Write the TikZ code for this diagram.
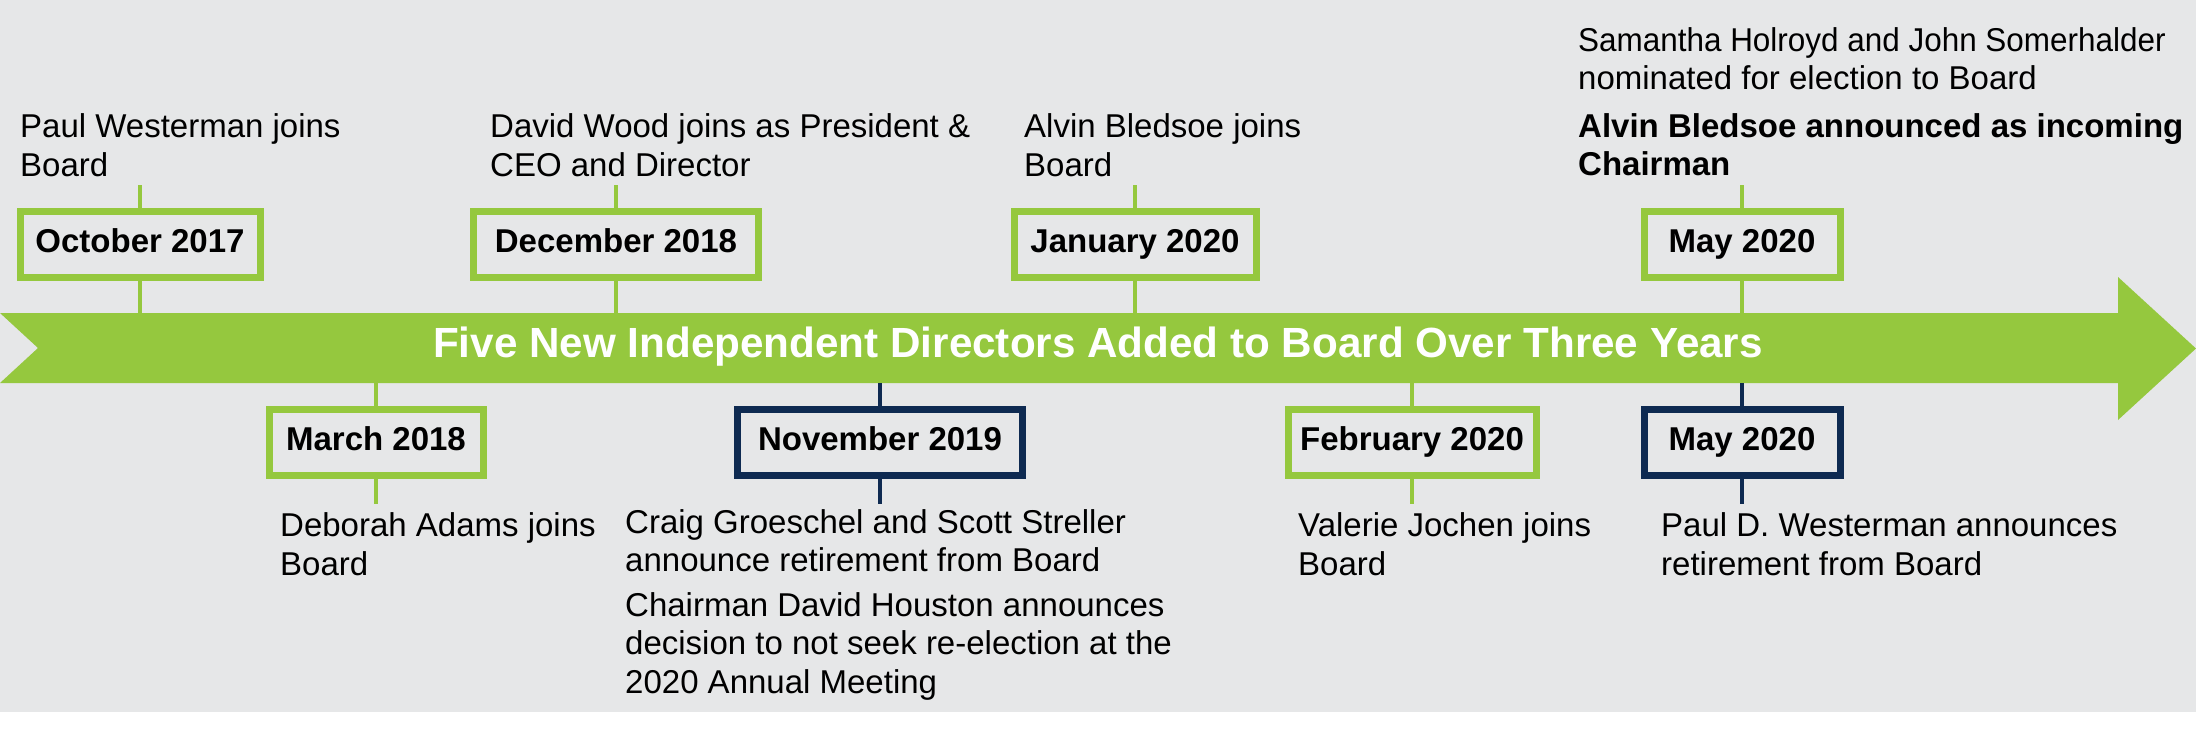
\documentclass[tikz,border=0pt]{standalone}
\usepackage{fontspec}
\setmainfont{Liberation Sans}
\definecolor{bgc}{RGB}{230,231,232}
\definecolor{grn}{RGB}{149,200,62}
\definecolor{navy}{RGB}{14,42,81}
\tikzset{
  datebox/.style={draw=grn, line width=7pt, inner sep=0pt, minimum height=66pt,
    font=\fontsize{33}{38}\selectfont\bfseries, text height=22pt, text depth=7pt},
  navybox/.style={datebox, draw=navy},
  desc/.style={anchor=base west, align=left, inner sep=0pt, font=\fontsize{33}{38.5}\selectfont},
  gconn/.style={draw=grn, line width=4.5pt},
  nconn/.style={draw=navy, line width=4.5pt}
}
\begin{document}
\begin{tikzpicture}[x=1pt,y=-1pt]
\useasboundingbox (0,0) rectangle (2196,745);
\fill[white] (0,0) rectangle (2196,745);
\fill[bgc] (0,0) rectangle (2196,712);
% banner
\fill[grn] (0,313) -- (2118,313) -- (2118,277) -- (2196,348.5) -- (2118,420) -- (2118,383) -- (0,383) -- (38,348) -- cycle;
\coordinate (bt) at (0,313);
\coordinate (bb) at (0,383);
\node[anchor=base, text=white, inner sep=0pt, font=\fontsize{42.2}{48}\selectfont\bfseries] (title) at (1098,357)
  {Five New Independent Directors Added to Board Over Three Years};
% top boxes
\node[datebox, minimum width=240pt] (oct) at (140,244.5) {October 2017};
\node[datebox, minimum width=285pt] (dec) at (616,244.5) {December 2018};
\node[datebox, minimum width=242pt] (jan) at (1135,244.5) {January 2020};
\node[datebox, minimum width=196pt] (may1) at (1742,244.5) {May 2020};
% bottom boxes
\node[datebox, minimum width=214pt] (mar) at (376,442.5) {March 2018};
\node[navybox, minimum width=285pt] (nov) at (880,442.5) {November 2019};
\node[datebox, minimum width=248pt] (feb) at (1412,442.5) {February 2020};
\node[navybox, minimum width=196pt] (may2) at (1742,442.5) {May 2020};
% top connectors
\foreach \n in {oct,dec,jan,may1}{
  \draw[gconn] (\n.north) -- ++(0,-23);
  \draw[gconn] (\n.south) -- (\n.south |- bt);
}
% bottom connectors
\foreach \n in {mar,feb}{
  \draw[gconn] (\n.north |- bb) -- (\n.north);
  \draw[gconn] (\n.south) -- ++(0,25);
}
\foreach \n in {nov,may2}{
  \draw[nconn] (\n.north |- bb) -- (\n.north);
  \draw[nconn] (\n.south) -- ++(0,25);
}
% descriptions (anchored at the baseline of the last line)
\node[desc] (pw) at (20,176) {Paul Westerman joins\\Board};
\node[desc] (dw) at (490,176) {David Wood joins as President \&\\CEO and Director};
\node[desc] (ab) at (1024,176) {Alvin Bledsoe joins\\Board};
\node[desc] (sh) at (1578,175.5) {\scalebox{0.953}[1]{Samantha Holroyd and John Somerhalder}\\nominated for election to Board\\[9pt]\textbf{Alvin Bledsoe announced as incoming}\\\textbf{Chairman}};
\node[desc] (da) at (280,575) {Deborah Adams joins\\Board};
\node[desc] (cg) at (625,693) {Craig Groeschel and Scott Streller\\announce retirement from Board\\[6pt]Chairman David Houston announces\\decision to not seek re-election at the\\2020 Annual Meeting};
\node[desc] (vj) at (1298,575) {Valerie Jochen joins\\Board};
\node[desc] (pdw) at (1661,575) {Paul D. Westerman announces\\retirement from Board};
\end{tikzpicture}
\end{document}
